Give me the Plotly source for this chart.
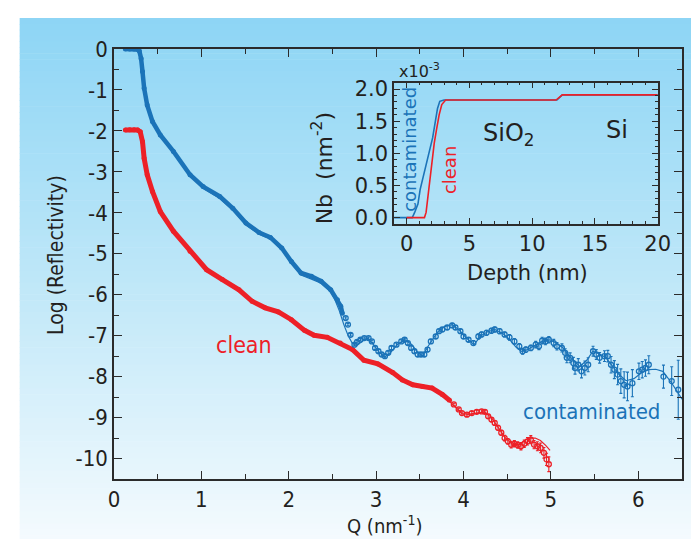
import plotly.graph_objects as go

# ---------------- data ----------------
# contaminated sample, dense low-Q data (filled dots)
q_cont_lo = [0.13, 0.18, 0.23, 0.27, 0.29, 0.31, 0.326, 0.345, 0.38, 0.44, 0.53, 0.68, 0.87, 1.02,
             1.21, 1.36, 1.51, 1.66, 1.79, 1.92, 2.03, 2.14, 2.26, 2.37, 2.48, 2.557, 2.595, 2.613]
r_cont_lo = [0.0, 0.0, 0.0, -0.01, -0.05, -0.23, -0.55, -0.96, -1.37, -1.77, -2.1, -2.5, -3.07, -3.36,
             -3.6, -3.89, -4.25, -4.48, -4.6, -4.86, -5.19, -5.47, -5.55, -5.67, -5.88, -6.12, -6.28, -6.45]
# contaminated sample, high-Q data (open circles with error bars)
q_cont_hi = [2.651, 2.677, 2.707, 2.752, 2.782, 2.82, 2.864, 2.913, 2.951, 2.988, 3.026, 3.063, 3.1,
             3.138, 3.176, 3.232, 3.288, 3.326, 3.363, 3.401, 3.438, 3.476, 3.513, 3.551, 3.588, 3.626,
             3.682, 3.72, 3.757, 3.813, 3.87, 3.907, 3.964, 4.0, 4.057, 4.113, 4.17, 4.207, 4.263, 4.32,
             4.357, 4.413, 4.47, 4.526, 4.582, 4.638, 4.676, 4.713, 4.77, 4.826, 4.863, 4.9, 4.938, 4.976,
             5.032, 5.069, 5.126, 5.163, 5.182, 5.22, 5.257, 5.276, 5.313, 5.35, 5.388, 5.426, 5.482,
             5.519, 5.557, 5.613, 5.651, 5.688, 5.726, 5.763, 5.8, 5.838, 5.876, 5.932, 6.007, 6.045,
             6.082, 6.12, 6.288, 6.382, 6.457]
r_cont_hi = [-6.57, -6.73, -6.98, -7.22, -7.15, -7.1, -7.06, -7.06, -7.14, -7.3, -7.38, -7.46, -7.5,
             -7.42, -7.3, -7.22, -7.14, -7.1, -7.18, -7.3, -7.38, -7.46, -7.46, -7.46, -7.34, -7.14,
             -7.02, -6.89, -6.85, -6.8, -6.75, -6.8, -6.89, -7.02, -7.1, -7.18, -7.02, -6.97, -6.93, -6.88,
             -6.85, -6.89, -6.97, -7.04, -7.14, -7.26, -7.38, -7.34, -7.3, -7.22, -7.26, -7.12, -7.14, -7.1,
             -7.18, -7.26, -7.3, -7.42, -7.54, -7.54, -7.67, -7.79, -7.71, -7.87, -7.79, -7.71, -7.38,
             -7.46, -7.54, -7.5, -7.5, -7.71, -7.83, -7.95, -8.11, -8.2, -8.24, -8.16, -7.87, -7.83,
             -7.79, -7.71, -8.0, -8.11, -8.32]
e_cont_hi = [0.03, 0.03, 0.03, 0.03, 0.03, 0.03, 0.03, 0.03, 0.03, 0.04, 0.04, 0.04, 0.04,
             0.04, 0.04, 0.04, 0.04, 0.04, 0.04, 0.05, 0.05, 0.05, 0.05, 0.05, 0.05, 0.05,
             0.05, 0.05, 0.05, 0.05, 0.05, 0.05, 0.05, 0.05, 0.05, 0.06, 0.06, 0.06, 0.06, 0.06,
             0.06, 0.06, 0.06, 0.07, 0.07, 0.07, 0.07, 0.07, 0.07, 0.08, 0.08, 0.08, 0.08, 0.08,
             0.09, 0.09, 0.1, 0.1, 0.12, 0.12, 0.14, 0.15, 0.15, 0.16, 0.17, 0.17, 0.12,
             0.12, 0.13, 0.13, 0.14, 0.2, 0.22, 0.25, 0.3, 0.32, 0.35, 0.33, 0.2, 0.2,
             0.2, 0.22, 0.28, 0.35, 0.72]
# contaminated sample, fitted curve
q_cont_fit = [0.13, 0.29, 0.31, 0.33, 0.35, 0.38, 0.44, 0.53, 0.68, 0.87, 1.02, 1.21, 1.36, 1.51, 1.66,
              1.79, 1.92, 2.03, 2.14, 2.26, 2.37, 2.48, 2.52, 2.58, 2.63, 2.68, 2.73, 2.78, 2.85, 2.9,
              2.97, 3.04, 3.1, 3.17, 3.25, 3.33, 3.41, 3.47, 3.53, 3.6, 3.7, 3.78, 3.87, 3.95, 4.03,
              4.12, 4.2, 4.28, 4.36, 4.45, 4.53, 4.6, 4.66, 4.72, 4.8, 4.9, 4.99, 5.06, 5.14, 5.22,
              5.33, 5.41, 5.48, 5.56, 5.63, 5.7, 5.78, 5.86, 5.95, 6.04, 6.12, 6.2, 6.28, 6.38, 6.45, 6.5]
r_cont_fit = [0.0, 0.0, -0.23, -0.6, -0.98, -1.37, -1.77, -2.12, -2.52, -3.08, -3.4, -3.65, -3.93, -4.3,
              -4.52, -4.64, -4.9, -5.23, -5.52, -5.62, -5.72, -5.93, -6.08, -6.4, -6.73, -7.0, -7.2,
              -7.24, -7.12, -7.06, -7.22, -7.42, -7.52, -7.4, -7.2, -7.1, -7.22, -7.4, -7.5, -7.24,
              -6.92, -6.78, -6.73, -6.86, -7.05, -7.22, -7.0, -6.9, -6.85, -6.95, -7.1, -7.28, -7.38,
              -7.35, -7.25, -7.14, -7.1, -7.18, -7.3, -7.52, -7.75, -7.6, -7.38, -7.45, -7.54, -7.72,
              -7.95, -8.1, -8.05, -7.9, -7.83, -7.82, -7.87, -8.15, -8.4, -8.55]

# clean sample, dense low-Q data
q_clean_lo = [0.13, 0.18, 0.23, 0.27, 0.30, 0.326, 0.345, 0.38, 0.44, 0.53, 0.68, 0.87, 1.06, 1.24,
              1.43, 1.58, 1.73, 1.88, 2.03, 2.18, 2.29, 2.44, 2.59, 2.73, 2.86, 3.02, 3.19, 3.3, 3.42,
              3.53, 3.64, 3.76, 3.84]
r_clean_lo = [-1.98, -1.97, -1.97, -1.98, -2.02, -2.26, -2.67, -3.07, -3.48, -3.97, -4.45, -4.94,
              -5.39, -5.63, -5.88, -6.16, -6.32, -6.42, -6.61, -6.87, -6.99, -7.04, -7.18, -7.34,
              -7.6, -7.69, -7.9, -8.08, -8.2, -8.24, -8.28, -8.44, -8.58]
# clean sample, high-Q data with error bars
q_clean_hi = [3.889, 3.945, 3.982, 4.039, 4.095, 4.151, 4.207, 4.245, 4.282, 4.32, 4.357, 4.395,
              4.432, 4.47, 4.507, 4.545, 4.582, 4.62, 4.657, 4.695, 4.732, 4.77, 4.807, 4.845,
              4.882, 4.92, 4.95, 4.976]
r_clean_hi = [-8.68, -8.8, -8.89, -8.93, -8.89, -8.86, -8.85, -8.86, -8.97, -9.05, -9.13, -9.25,
              -9.37, -9.5, -9.58, -9.66, -9.64, -9.67, -9.7, -9.64, -9.58, -9.54, -9.66, -9.7,
              -9.74, -9.86, -10.02, -10.14]
e_clean_hi = [0.03, 0.03, 0.03, 0.04, 0.04, 0.04, 0.04, 0.04, 0.05, 0.05, 0.05, 0.06,
              0.06, 0.07, 0.07, 0.08, 0.08, 0.08, 0.09, 0.09, 0.09, 0.1, 0.1, 0.11,
              0.12, 0.13, 0.15, 0.18]
# clean sample, fitted curve
q_clean_fit = [0.13, 0.29, 0.31, 0.33, 0.35, 0.38, 0.44, 0.53, 0.68, 0.87, 1.06, 1.24, 1.43, 1.58,
               1.73, 1.88, 2.03, 2.18, 2.29, 2.44, 2.59, 2.73, 2.86, 3.02, 3.19, 3.3, 3.42, 3.53,
               3.64, 3.76, 3.89, 3.98, 4.05, 4.15, 4.24, 4.32, 4.4, 4.48, 4.56, 4.64, 4.7, 4.76,
               4.82, 4.88, 4.94, 4.99]
r_clean_fit = [-1.98, -1.98, -2.1, -2.35, -2.7, -3.07, -3.48, -3.97, -4.45, -4.94, -5.39, -5.63,
               -5.88, -6.16, -6.32, -6.42, -6.61, -6.87, -6.99, -7.04, -7.18, -7.34, -7.6, -7.69,
               -7.9, -8.08, -8.2, -8.24, -8.28, -8.44, -8.72, -8.9, -8.92, -8.88, -8.86, -9.0,
               -9.25, -9.5, -9.65, -9.66, -9.56, -9.5, -9.5, -9.56, -9.68, -9.8]

# inset: scattering length density profiles (x10^-3 nm^-2)
depth_cont = [-1.0, 0.45, 0.64, 0.9, 1.08, 1.29, 1.55, 1.81, 2.07, 2.28, 2.46, 2.64, 2.98, 11.97, 12.4, 20.0]
nb_cont = [0.0, 0.0, 0.08, 0.21, 0.44, 0.62, 0.85, 1.03, 1.24, 1.52, 1.7, 1.81, 1.83, 1.83, 1.91, 1.91]
depth_clean = [0.0, 1.42, 1.55, 1.81, 2.07, 2.2, 2.38, 2.59, 2.8, 3.11, 11.9, 12.4, 20.0]
nb_clean = [0.0, 0.0, 0.08, 0.52, 0.93, 1.16, 1.37, 1.6, 1.76, 1.83, 1.83, 1.91, 1.91]

# tick labels
main_x_ticks = [0, 1, 2, 3, 4, 5, 6]
main_y_ticks = [0, -1, -2, -3, -4, -5, -6, -7, -8, -9, -10]
main_y_labels = ["0", "-1", "-2", "-3", "-4", "-5", "-6", "-7", "-8", "-9", "-10"]
inset_x_ticks = [0, 5, 10, 15, 20]
inset_y_ticks = [0.0, 0.5, 1.0, 1.5, 2.0]
inset_y_labels = ["0.0", "0.5", "1.0", "1.5", "2.0"]

# ---------------- style ----------------
BLUE = "#1b73b8"
RED = "#ed2027"
INK = "#231f20"
NARROW = "DejaVu Sans Condensed, Liberation Sans Narrow, Arial Narrow, sans-serif"
WIDE = "DejaVu Sans, Verdana, sans-serif"

W, H = 699, 539
ML, MR, MT, MB = 106, 15, 41, 68
PW, PH = W - ML - MR, H - MT - MB


def px_x(p):
    return (p - ML) / PW


def px_y(p):
    return (H - MB - p) / PH


fig = go.Figure()

# main panel
fig.add_trace(go.Scatter(x=q_clean_fit, y=r_clean_fit, mode="lines",
                         line=dict(color=RED, width=1.2), showlegend=False))
fig.add_trace(go.Scatter(x=q_clean_lo, y=r_clean_lo, mode="lines+markers",
                         line=dict(color=RED, width=5), marker=dict(color=RED, size=5),
                         showlegend=False))
fig.add_trace(go.Scatter(x=q_clean_hi, y=r_clean_hi, mode="markers",
                         marker=dict(color=RED, size=5, symbol="circle-open", line=dict(width=1.3)),
                         error_y=dict(type="data", array=e_clean_hi, color=RED, thickness=1.1, width=1.5),
                         showlegend=False))
fig.add_trace(go.Scatter(x=q_cont_fit, y=r_cont_fit, mode="lines",
                         line=dict(color=BLUE, width=1.2), showlegend=False))
fig.add_trace(go.Scatter(x=q_cont_lo, y=r_cont_lo, mode="lines+markers",
                         line=dict(color=BLUE, width=4.5), marker=dict(color=BLUE, size=5),
                         showlegend=False))
fig.add_trace(go.Scatter(x=q_cont_hi, y=r_cont_hi, mode="markers",
                         marker=dict(color=BLUE, size=5, symbol="circle-open", line=dict(width=1.3)),
                         error_y=dict(type="data", array=e_cont_hi, color=BLUE, thickness=1.1, width=1.5),
                         showlegend=False))

# inset
fig.add_trace(go.Scatter(x=depth_cont, y=nb_cont, mode="lines", xaxis="x2", yaxis="y2",
                         line=dict(color=BLUE, width=1.6), showlegend=False))
fig.add_trace(go.Scatter(x=depth_clean, y=nb_clean, mode="lines", xaxis="x2", yaxis="y2",
                         line=dict(color=RED, width=1.6), showlegend=False))

axis_common = dict(showline=True, linecolor="#2b2b2b", linewidth=1.5, mirror="ticks",
                   ticks="inside", tickcolor="#2b2b2b", tickwidth=1.4, showgrid=False, zeroline=False)

fig.update_layout(
    width=W, height=H, autosize=False,
    margin=dict(l=ML, r=MR, t=MT, b=MB),
    paper_bgcolor="white", plot_bgcolor="rgba(0,0,0,0)",
    xaxis=dict(range=[0, 6.5], tickmode="array", tickvals=main_x_ticks,
               ticktext=[str(v) for v in main_x_ticks], ticklen=8,
               minor=dict(tickmode="array", tickvals=[v + 0.5 for v in range(7)], ticks="inside",
                          ticklen=5, tickcolor="#2b2b2b", tickwidth=1.2),
               tickfont=dict(family=NARROW, size=22, color=INK), **axis_common),
    yaxis=dict(range=[-10.5, 0], tickmode="array", tickvals=main_y_ticks, ticktext=main_y_labels,
               ticklen=8,
               minor=dict(tickmode="array", tickvals=[-v - 0.5 for v in range(11)], ticks="inside",
                          ticklen=5, tickcolor="#2b2b2b", tickwidth=1.2),
               tickfont=dict(family=NARROW, size=22, color=INK), **axis_common),
    xaxis2=dict(domain=[px_x(391), px_x(659.3)], anchor="y2", range=[-1, 20],
                tickmode="array", tickvals=inset_x_ticks, ticktext=[str(v) for v in inset_x_ticks],
                ticklen=6,
                minor=dict(tickmode="array", tickvals=list(range(-1, 21)), ticks="inside",
                           ticklen=3, tickcolor="#2b2b2b", tickwidth=1),
                tickfont=dict(family=WIDE, size=21, color=INK), **axis_common),
    yaxis2=dict(domain=[px_y(216), px_y(74.7)], anchor="x2", range=[-0.1, 2.1],
                tickmode="array", tickvals=inset_y_ticks, ticktext=inset_y_labels, ticklen=6,
                minor=dict(tickmode="array", tickvals=[i / 10 for i in range(0, 21)], ticks="inside",
                           ticklen=3, tickcolor="#2b2b2b", tickwidth=1),
                tickfont=dict(family=WIDE, size=21, color=INK), **axis_common),
)

# gradient background panel
stops = [(10, (141, 213, 245)), (270, (190, 231, 248)), (539, (246, 251, 254))]


def col_at(y):
    for (y0, c0), (y1, c1) in zip(stops[:-1], stops[1:]):
        if y0 <= y <= y1:
            t = (y - y0) / (y1 - y0)
            return tuple(round(a + (b - a) * t) for a, b in zip(c0, c1))
    return stops[-1][1]


shapes = []
NB = 90
for i in range(NB):
    y0 = 10 + (539 - 10) * i / NB
    y1 = 10 + (539 - 10) * (i + 1) / NB
    c = col_at((y0 + y1) / 2)
    shapes.append(dict(type="rect", xref="paper", yref="paper", layer="below",
                       x0=px_x(10), x1=px_x(699), y0=px_y(y1 + 0.6), y1=px_y(y0),
                       fillcolor="rgb(%d,%d,%d)" % c, line=dict(width=0)))
fig.update_layout(shapes=shapes)

ann = []


def text(x, y, s, size, color=INK, family=NARROW, angle=0, xref="paper", yref="paper",
         xanchor="center", yanchor="middle"):
    ann.append(dict(x=x, y=y, xref=xref, yref=yref, text=s, showarrow=False, textangle=angle,
                    font=dict(family=family, size=size, color=color),
                    xanchor=xanchor, yanchor=yanchor))


text(px_x(47), px_y(247), "Log (Reflectivity)", 21, angle=-90)
text(px_x(381), px_y(517), "Q (nm<sup>-1</sup>)", 20)
text(1.485, -7.22, "clean", 23, color=RED, xref="x", yref="y")
text(5.47, -8.85, "contaminated", 22, color=BLUE, xref="x", yref="y")

text(px_x(318), px_y(160), "Nb  (nm<sup>-2</sup>)", 22, family=WIDE, angle=-90)
text(px_x(527), px_y(265), "Depth (nm)", 21, family=WIDE)
text(px_x(394), px_y(63), "x10<sup>-3</sup>", 16, family=WIDE, xanchor="left")
text(px_x(507), px_y(126), "SiO<sub>2</sub>", 24, family=WIDE)
text(px_x(618), px_y(122), "Si", 24, family=WIDE)
text(px_x(406), px_y(141), "contaminated", 18, color=BLUE, family=WIDE, angle=-90)
text(px_x(447), px_y(162), "clean", 18, color=RED, family=WIDE, angle=-90)

fig.update_layout(annotations=ann)

fig.write_html("out.html")
